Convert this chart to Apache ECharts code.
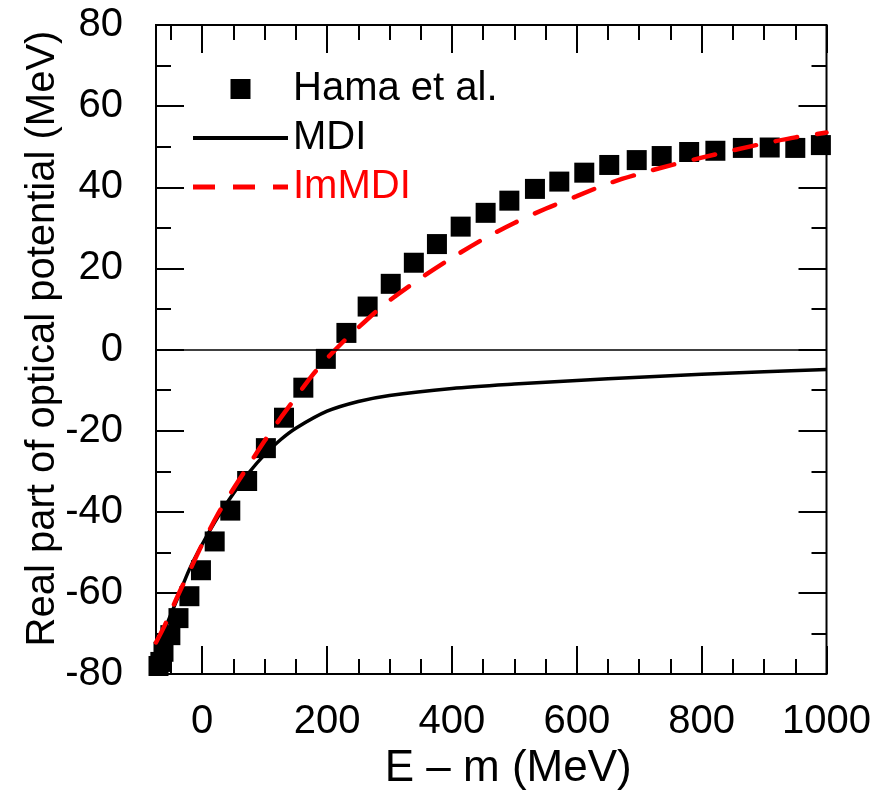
<!DOCTYPE html>
<html>
<head>
<meta charset="utf-8">
<script src="https://cdn.jsdelivr.net/npm/echarts@6/dist/echarts.min.js"></script>
<style>
html,body{margin:0;padding:0;background:#fff;}
#chart{width:874px;height:796px;}
</style>
</head>
<body>
<div id="chart"></div>
<script>
// ---- data ----
var hamaX = [-70, -67, -62, -51, -38, -20.5, -2, 20, 45, 72, 102, 131, 162, 198, 231, 265, 302, 339, 376, 414, 454, 492, 533, 572, 612, 652, 696, 736, 780, 822, 866, 909, 950, 991];
var hamaY = [-78, -77, -74.5, -70.4, -66.2, -60.8, -54.4, -47.3, -39.7, -32.4, -24.3, -16.8, -9.4, -2.3, 4.1, 10.6, 16.2, 21.4, 26.0, 30.3, 33.7, 36.7, 39.6, 41.4, 43.6, 45.5, 46.7, 47.7, 48.7, 49.0, 49.7, 49.8, 49.7, 50.4];

var mdiX = [-74, -60, -40, -20, 0, 25, 50, 75, 100, 125, 150, 200, 250, 300, 400, 500, 600, 700, 800, 900, 1000];
var mdiY = [-75, -69, -61.5, -54, -48, -41.3, -35.5, -30.3, -25.9, -22.3, -19.4, -15.2, -12.8, -11.3, -9.6, -8.5, -7.6, -6.8, -6.1, -5.5, -4.9];

var immdiX = [-74, -60, -40, -20, 0, 25, 50, 75, 100, 125, 150, 175, 200, 225, 250, 275, 300, 350, 400, 450, 500, 550, 600, 650, 700, 750, 800, 850, 900, 950, 1000];
var immdiY = [-72.2, -68, -61, -54.5, -48, -40.6, -34.3, -28.4, -22.5, -17, -11.8, -6.6, -2.2, 1.8, 5.4, 8.9, 12.1, 17.6, 22.6, 27.2, 31.2, 34.7, 37.8, 40.9, 43.3, 45.4, 47.3, 49.1, 50.8, 52.3, 53.5];

var xMajorTicks = [0, 200, 400, 600, 800, 1000];
var xMinorTicks = [-50, 50, 100, 150, 250, 300, 350, 450, 500, 550, 650, 700, 750, 850, 900, 950];

var seriesNames = ['Hama et al.', 'MDI', 'ImMDI'];
var xTitle = 'E \u2013 m (MeV)';
var yTitle = 'Real part of optical potential (MeV)';

// ---- chart ----
function zip(a, b) { return a.map(function (v, i) { return [v, b[i]]; }); }
var FONT = "'Liberation Sans', Arial, sans-serif";
var XMIN = -74, XMAX = 1000;

var chart = echarts.init(document.getElementById('chart'), null, {renderer: 'canvas'});

function xAx(pos, major, showLabel, withName) {
  var o = {
    type: 'value', position: pos, min: XMIN, max: XMAX, gridIndex: 0,
    axisLine: {show: false, onZero: false},
    splitLine: {show: false},
    axisTick: {show: true, inside: true, length: major ? 28 : 15,
      customValues: major ? xMajorTicks : xMinorTicks,
      lineStyle: {color: '#000', width: 2}},
    axisLabel: {show: showLabel, customValues: xMajorTicks, margin: 28,
      formatter: function (v) { return String(v); },
      color: '#000', fontSize: 40, fontFamily: FONT}
  };
  if (withName) {
    o.name = xTitle; o.nameLocation = 'middle'; o.nameGap = 72;
    o.nameTextStyle = {color: '#000', fontSize: 44, fontFamily: FONT, padding: [0, 0, 0, 34]};
  }
  return o;
}
function yAx(pos, showLabel, withName) {
  var o = {
    type: 'value', position: pos, min: -80, max: 80, interval: 20,
    axisLine: {show: false, onZero: false},
    splitLine: {show: false},
    axisTick: {show: true, inside: true, length: 28, lineStyle: {color: '#000', width: 2}},
    minorTick: {show: true, splitNumber: 2, length: 15, lineStyle: {color: '#000', width: 2}},
    axisLabel: {show: showLabel, margin: 33, color: '#000', fontSize: 40, fontFamily: FONT}
  };
  if (withName) {
    o.name = yTitle; o.nameLocation = 'middle'; o.nameGap = 93; o.nameMoveOverlap = false;
    o.nameTextStyle = {color: '#000', fontSize: 40, fontFamily: FONT, padding: [0, 0, 0, 22]};
  }
  return o;
}

var option = {
  backgroundColor: '#fff',
  animation: false,
  grid: {left: 156, right: 39, top: 25, bottom: 120, show: true,
    borderColor: '#000', borderWidth: 2, backgroundColor: 'transparent'},
  legend: {
    orient: 'vertical', left: 188, top: 64,
    itemWidth: 95, itemHeight: 20, itemGap: 9,
    textStyle: {color: '#000', fontSize: 40, fontFamily: FONT},
    data: [
      {name: seriesNames[0], icon: 'path://M0,0H10V10H0Z', itemStyle: {opacity: 1, color: '#000'}},
      {name: seriesNames[1], icon: 'path://M0,0H95V4H0Z', itemStyle: {color: '#000'}},
      {name: seriesNames[2], icon: 'path://M0,0H22V5H0ZM40,0H62V5H40ZM80,0H95V5H80Z',
        itemStyle: {color: '#ff0000'}, textStyle: {color: '#ff0000'}}
    ]
  },
  xAxis: [
    xAx('bottom', true, true, true),
    xAx('bottom', false, false, false),
    xAx('top', true, false, false),
    xAx('top', false, false, false)
  ],
  yAxis: [
    yAx('left', true, true),
    yAx('right', false, false)
  ],
  series: [
    {
      name: seriesNames[0], type: 'scatter', symbol: 'rect', symbolSize: 20,
      itemStyle: {color: '#000', opacity: 1}, data: zip(hamaX, hamaY), z: 2,
      markLine: {
        silent: true, symbol: 'none', label: {show: false},
        lineStyle: {color: '#000', width: 1.5, type: 'solid'},
        data: [{yAxis: 0}]
      }
    },
    {
      name: seriesNames[1], type: 'line', symbol: 'none', smooth: 0.3,
      lineStyle: {color: '#000', width: 3.5},
      itemStyle: {color: '#000'},
      data: zip(mdiX, mdiY), z: 3
    },
    {
      name: seriesNames[2], type: 'line', symbol: 'none', smooth: 0.3,
      lineStyle: {color: '#ff0000', width: 4.5, type: [22, 20], cap: 'round'},
      itemStyle: {color: '#ff0000'},
      data: zip(immdiX, immdiY), z: 4
    }
  ]
};
chart.setOption(option);
</script>
</body>
</html>
